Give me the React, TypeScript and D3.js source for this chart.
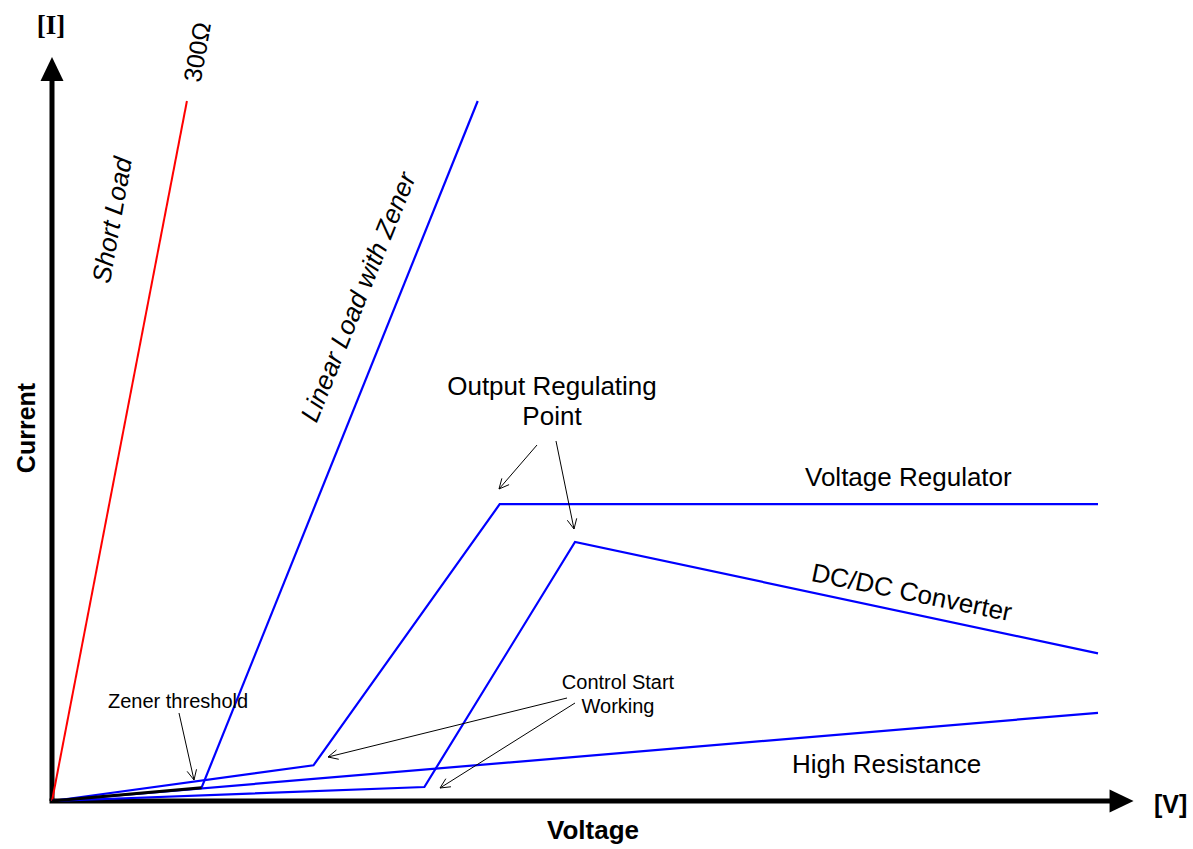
import React from "react";
import * as d3 from "d3";

// Data in arbitrary voltage (x) / current (y) units
const shortLoad: [number, number][] = [[0, 0], [12.9, 100]];
const zenerThreshold: [number, number][] = [[0, 0], [14.3, 1.9]];
const linearLoadZener: [number, number][] = [[14.3, 1.9], [40.7, 100]];
const voltageRegulator: [number, number][] = [[0, 0], [25.0, 5.1], [42.8, 42.4], [100, 42.4]];
const dcdcConverter: [number, number][] = [[0, 0], [35.6, 2.0], [50.0, 37.0], [100, 21.1]];
const highResistance: [number, number][] = [[0, 0], [100, 12.6]];
const axisMax: [number, number] = [103.4, 106.3];

const W = 1193;
const H = 849;
const SANS = "'Liberation Sans', Arial, Helvetica, sans-serif";
const SERIF = "'Liberation Serif', 'Times New Roman', serif";

const x = d3.scaleLinear().domain([0, 100]).range([52, 1098]);
const y = d3.scaleLinear().domain([0, 100]).range([801, 101]);
const line = d3
  .line<[number, number]>()
  .x((d) => x(d[0]))
  .y((d) => y(d[1]));

function Arrow({ x1, y1, x2, y2 }: { x1: number; y1: number; x2: number; y2: number }) {
  const a = Math.atan2(y2 - y1, x2 - x1);
  const len = 11;
  const s = 0.45;
  const p1 = [x2 - len * Math.cos(a - s), y2 - len * Math.sin(a - s)];
  const p2 = [x2 - len * Math.cos(a + s), y2 - len * Math.sin(a + s)];
  return (
    <g stroke="#000" strokeWidth={1} fill="none">
      <line x1={x1} y1={y1} x2={x2} y2={y2} />
      <path d={`M${p1[0]},${p1[1]} L${x2},${y2} L${p2[0]},${p2[1]}`} />
    </g>
  );
}

export default function App() {
  const ox = x(0);
  const oy = y(0);
  const xEnd = x(axisMax[0]);
  const yEnd = y(axisMax[1]);
  return (
    <svg
      width={W}
      height={H}
      style={{ position: "absolute", left: 0, top: 0, background: "#fff" }}
      fontFamily={SANS}
    >
      <rect width={W} height={H} fill="#fff" />
      {/* axes */}
      <line x1={ox} y1={oy} x2={ox} y2={yEnd + 20} stroke="#000" strokeWidth={5} />
      <line x1={ox - 2.5} y1={oy} x2={xEnd - 20} y2={oy} stroke="#000" strokeWidth={5} />
      <path d={`M${ox},${yEnd} L${ox + 11.5},${yEnd + 24} L${ox - 11.5},${yEnd + 24} Z`} fill="#000" />
      <path d={`M${xEnd},${oy} L${xEnd - 24},${oy - 11.5} L${xEnd - 24},${oy + 11.5} Z`} fill="#000" />

      {/* series */}
      <path d={line(shortLoad) || ""} stroke="#ff0000" strokeWidth={2} fill="none" />
      <path d={line(highResistance) || ""} stroke="#0000ff" strokeWidth={2.2} fill="none" />
      <path d={line(dcdcConverter) || ""} stroke="#0000ff" strokeWidth={2.2} fill="none" strokeLinejoin="miter" />
      <path d={line(voltageRegulator) || ""} stroke="#0000ff" strokeWidth={2.2} fill="none" />
      <path d={line(linearLoadZener) || ""} stroke="#0000ff" strokeWidth={2.2} fill="none" />
      <path d={line(zenerThreshold) || ""} stroke="#000" strokeWidth={3} fill="none" />

      {/* axis labels */}
      <text x={51} y={34} fontFamily={SERIF} fontWeight="bold" fontSize={27} textAnchor="middle">[I]</text>
      <text x={1154} y={813} fontWeight="bold" fontSize={25}>[V]</text>
      <text x={593} y={839} fontWeight="bold" fontSize={26} textAnchor="middle">Voltage</text>
      <text
        transform="translate(35,428) rotate(-90)"
        fontWeight="bold"
        fontSize={25}
        textAnchor="middle"
      >
        Current
      </text>

      {/* rotated series labels */}
      <text transform="translate(197,52) rotate(-80)" fontSize={25} textAnchor="middle" dominantBaseline="central">
        300Ω
      </text>
      <text
        transform="translate(112,220) rotate(-80)"
        fontSize={26}
        fontStyle="italic"
        textAnchor="middle"
        dominantBaseline="central"
      >
        Short Load
      </text>
      <text
        transform="translate(358,297) rotate(-68)"
        fontSize={26}
        fontStyle="italic"
        textAnchor="middle"
        dominantBaseline="central"
      >
        Linear Load with Zener
      </text>
      <text transform="translate(910,601) rotate(11.5)" fontSize={26} textAnchor="middle">
        DC/DC Converter
      </text>

      {/* horizontal labels */}
      <text x={552} y={395} fontSize={26} textAnchor="middle">Output Regulating</text>
      <text x={552} y={425} fontSize={26} textAnchor="middle">Point</text>
      <text x={805} y={486} fontSize={26}>Voltage Regulator</text>
      <text x={792} y={773} fontSize={26}>High Resistance</text>
      <text x={108} y={708} fontSize={20}>Zener threshold</text>
      <text x={618} y={689} fontSize={20} textAnchor="middle">Control Start</text>
      <text x={618} y={713} fontSize={20} textAnchor="middle">Working</text>

      {/* annotation arrows */}
      <Arrow x1={179} y1={713} x2={194} y2={780} />
      <Arrow x1={567} y1={698} x2={328} y2={757} />
      <Arrow x1={575} y1={703} x2={440} y2={788} />
      <Arrow x1={537} y1={445} x2={499} y2={489} />
      <Arrow x1={556} y1={441} x2={574} y2={529} />
    </svg>
  );
}
